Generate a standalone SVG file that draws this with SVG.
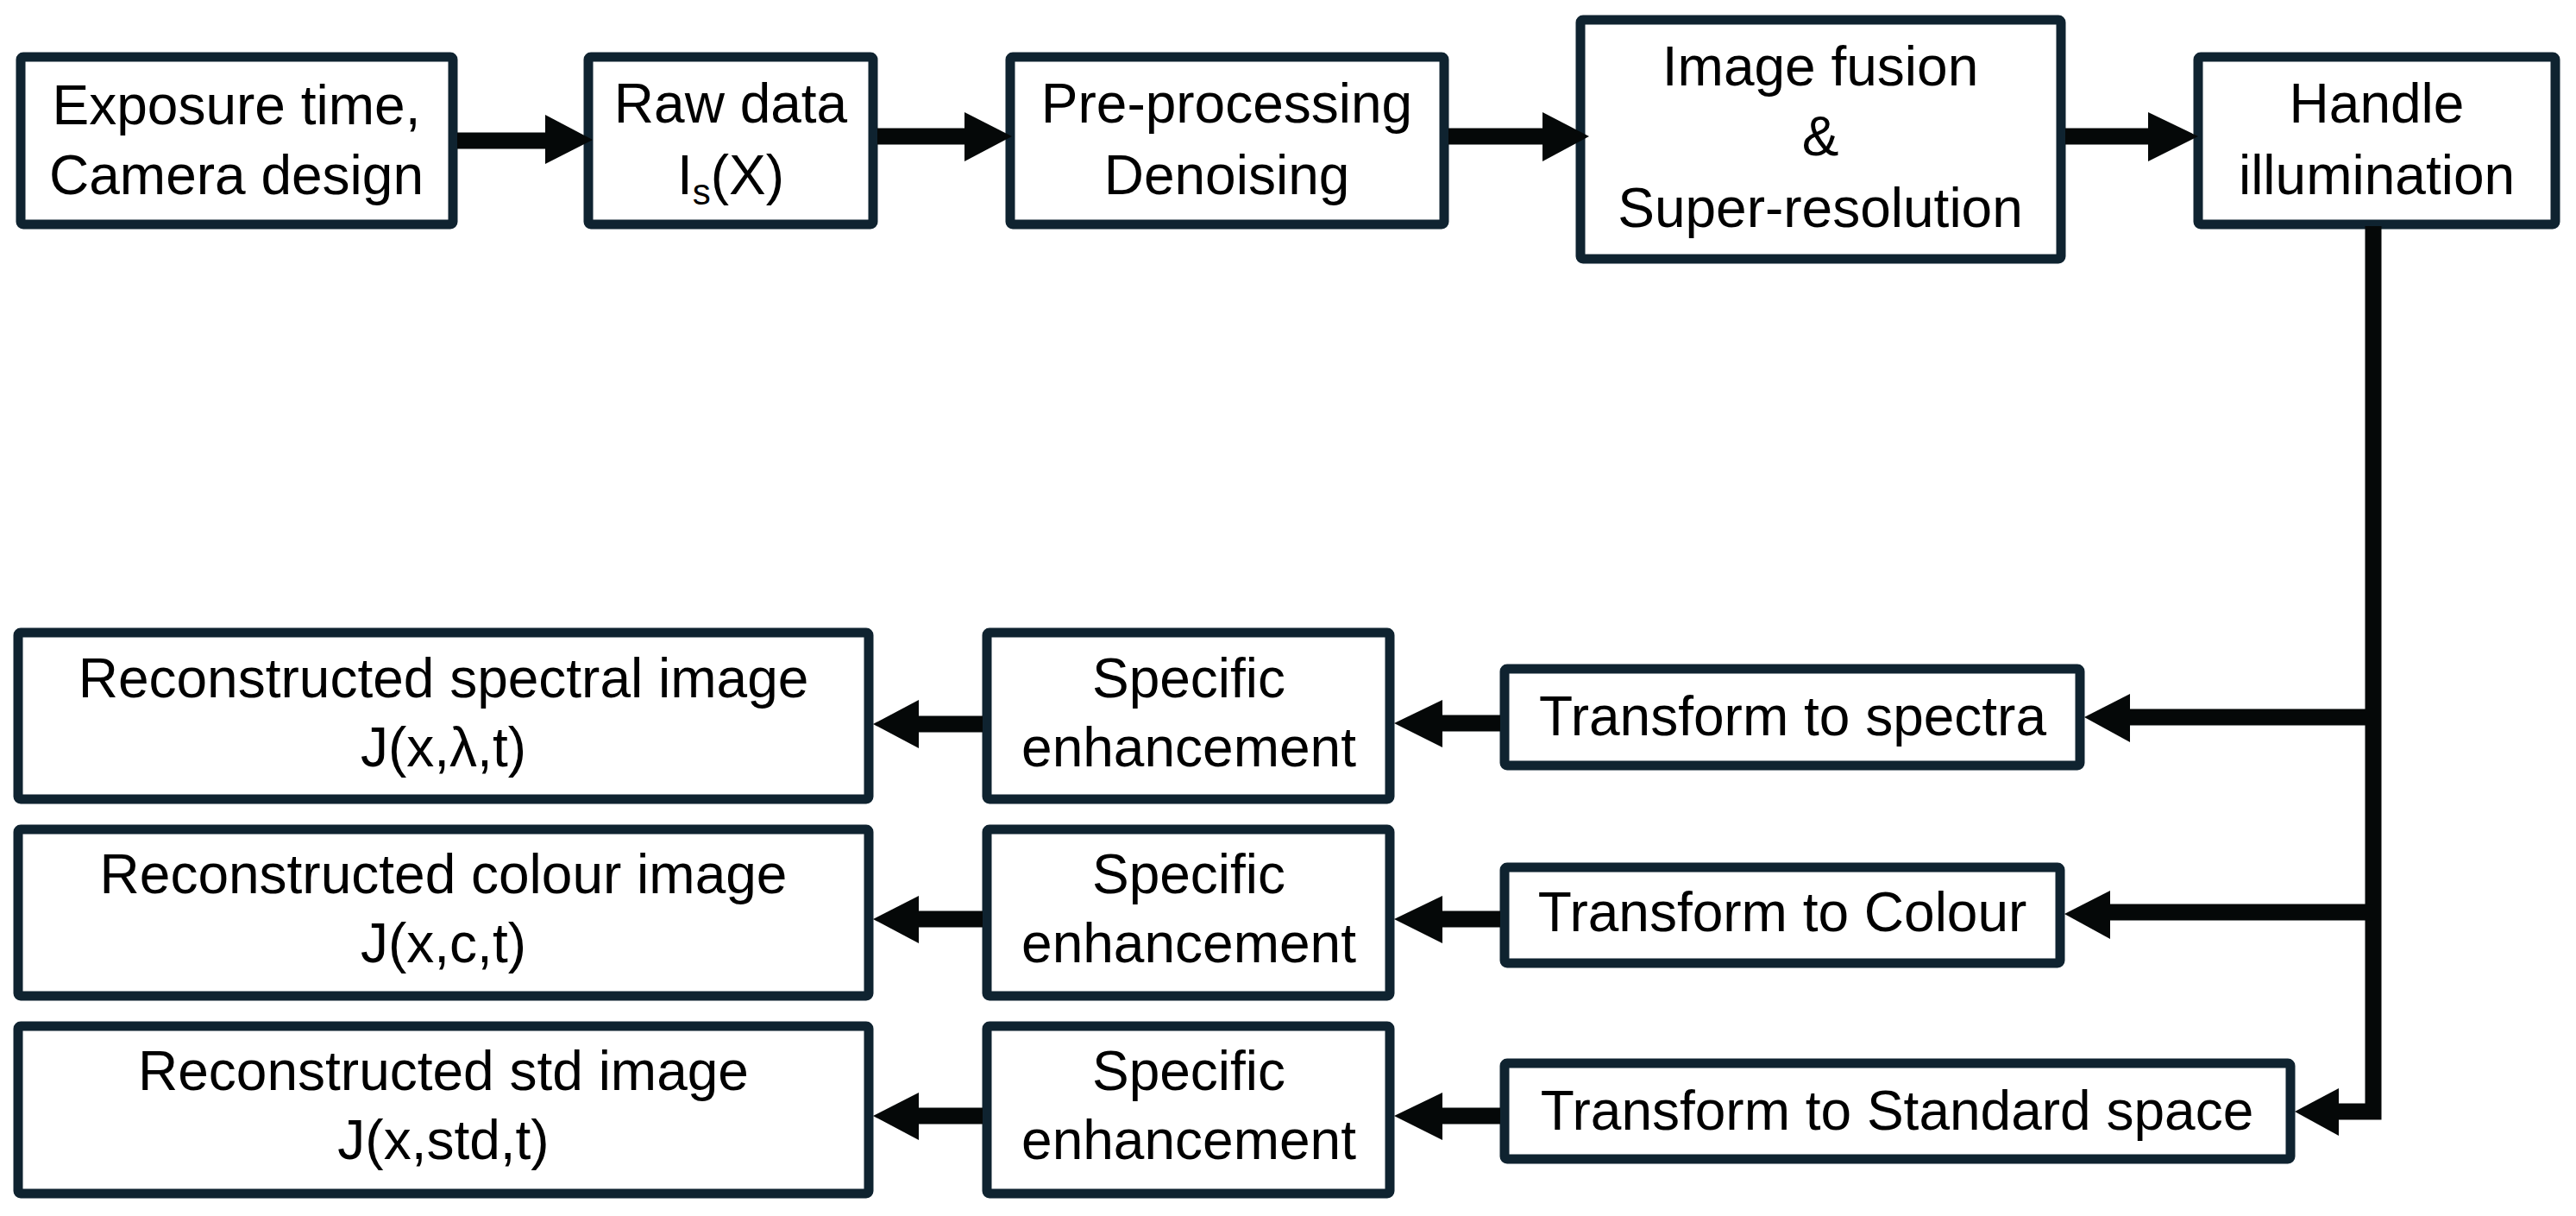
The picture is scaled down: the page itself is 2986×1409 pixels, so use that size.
<svg xmlns="http://www.w3.org/2000/svg" width="2986" height="1409" viewBox="0 0 2986 1409">
<style>
.b{fill:#fff;stroke:#0f2330;stroke-width:11}
.t{font-family:"Liberation Sans",Arial,sans-serif;font-size:64px;fill:#000;text-anchor:middle}
.c{fill:none;stroke:#050808;stroke-width:19}
.h{fill:#050808}
</style>
<rect width="2986" height="1409" fill="#fff"/>
<g id="n1"><rect class="b" x="24" y="66" width="501" height="194" rx="3"/><text class="t" x="274" y="144">Exposure time,</text><text class="t" x="274" y="225">Camera design</text></g>
<g id="n2"><rect class="b" x="682" y="66" width="330" height="194" rx="3"/><text class="t" x="847" y="142">Raw data</text><text class="t" x="847" y="225">I<tspan font-size="42" dy="12">s</tspan><tspan dy="-12">(X)</tspan></text></g>
<g id="n3"><rect class="b" x="1171" y="66" width="503" height="194" rx="3"/><text class="t" x="1422" y="142">Pre-processing</text><text class="t" x="1422" y="225">Denoising</text></g>
<g id="n4"><rect class="b" x="1832" y="23" width="557" height="277" rx="3"/><text class="t" x="2110" y="99">Image fusion</text><text class="t" x="2110" y="180">&amp;</text><text class="t" x="2110" y="263">Super-resolution</text></g>
<g id="n5"><rect class="b" x="2548" y="66" width="414" height="194" rx="3"/><text class="t" x="2755" y="142">Handle</text><text class="t" x="2755" y="225">illumination</text></g>
<g id="r1"><rect class="b" x="21" y="733" width="986" height="193" rx="3"/><text class="t" x="514" y="808">Reconstructed spectral image</text><text class="t" x="514" y="888">J(x,λ,t)</text></g>
<g id="r2"><rect class="b" x="21" y="961" width="986" height="193" rx="3"/><text class="t" x="514" y="1035">Reconstructed colour image</text><text class="t" x="514" y="1115">J(x,c,t)</text></g>
<g id="r3"><rect class="b" x="21" y="1189" width="986" height="194" rx="3"/><text class="t" x="514" y="1263">Reconstructed std image</text><text class="t" x="514" y="1343">J(x,std,t)</text></g>
<g id="s1"><rect class="b" x="1144" y="733" width="467" height="193" rx="3"/><text class="t" x="1378" y="808">Specific</text><text class="t" x="1378" y="888">enhancement</text></g>
<g id="s2"><rect class="b" x="1144" y="961" width="467" height="193" rx="3"/><text class="t" x="1378" y="1035">Specific</text><text class="t" x="1378" y="1115">enhancement</text></g>
<g id="s3"><rect class="b" x="1144" y="1189" width="467" height="194" rx="3"/><text class="t" x="1378" y="1263">Specific</text><text class="t" x="1378" y="1343">enhancement</text></g>
<g id="t1"><rect class="b" x="1744" y="775" width="667" height="112" rx="3"/><text class="t" x="2078" y="852">Transform to spectra</text></g>
<g id="t2"><rect class="b" x="1744" y="1005" width="644" height="111" rx="3"/><text class="t" x="2066" y="1079">Transform to Colour</text></g>
<g id="t3"><rect class="b" x="1744" y="1232" width="911" height="111" rx="3"/><text class="t" x="2199" y="1309">Transform to Standard space</text></g>
<g id="connectors">
<line class="c" x1="530" y1="163" x2="635" y2="163"/><polygon class="h" points="632,133 687,162 632,190"/>
<line class="c" x1="1017" y1="158" x2="1122" y2="158"/><polygon class="h" points="1118,130 1173,158 1118,187"/>
<line class="c" x1="1679" y1="158" x2="1790" y2="158"/><polygon class="h" points="1788,130 1842,158 1788,187"/>
<line class="c" x1="2394" y1="158" x2="2492" y2="158"/><polygon class="h" points="2490,130 2548,158 2490,187"/>
<polyline class="c" points="2751,262 2751,1288 2708,1288"/><polygon class="h" points="2711,1261 2660,1288 2711,1316"/>
<line class="c" x1="2751" y1="831" x2="2466" y2="831"/><polygon class="h" points="2469,804 2416,831 2469,860"/>
<line class="c" x1="2751" y1="1057" x2="2443" y2="1057"/><polygon class="h" points="2446,1032 2393,1059 2446,1088"/>
<line class="c" x1="1739" y1="838" x2="1670" y2="838"/><polygon class="h" points="1672,811 1616,838 1672,866"/>
<line class="c" x1="1739" y1="1065" x2="1670" y2="1065"/><polygon class="h" points="1672,1038 1616,1065 1672,1093"/>
<line class="c" x1="1739" y1="1293" x2="1670" y2="1293"/><polygon class="h" points="1672,1266 1616,1293 1672,1321"/>
<line class="c" x1="1139" y1="839" x2="1062" y2="839"/><polygon class="h" points="1065,811 1012,839 1065,867"/>
<line class="c" x1="1139" y1="1065" x2="1062" y2="1065"/><polygon class="h" points="1065,1038 1012,1065 1065,1093"/>
<line class="c" x1="1139" y1="1293" x2="1062" y2="1293"/><polygon class="h" points="1065,1266 1012,1293 1065,1321"/>
</g>
</svg>
